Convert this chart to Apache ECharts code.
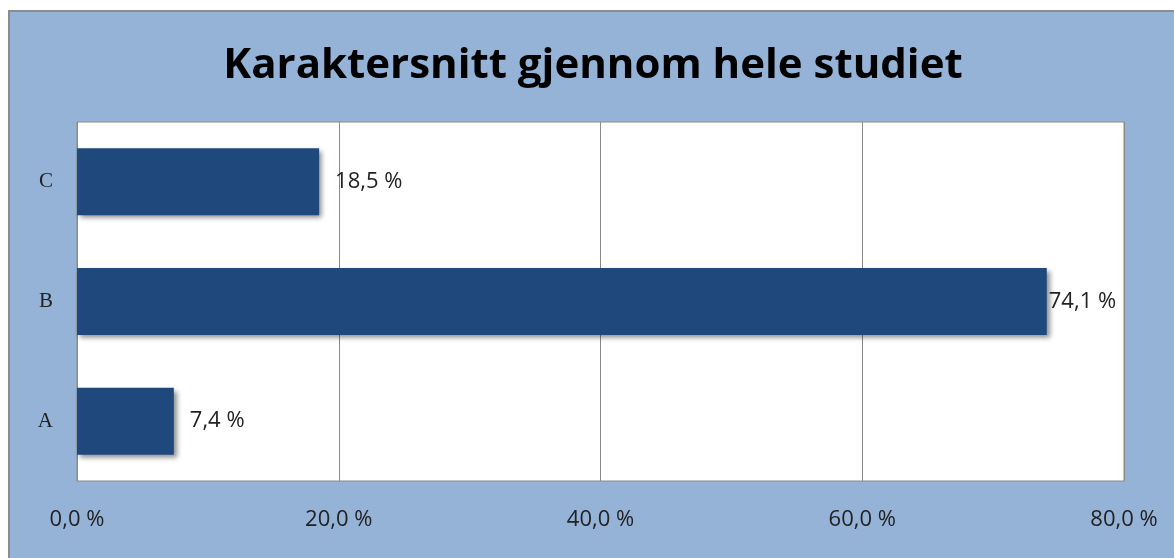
<!DOCTYPE html>
<html>
<head>
<meta charset="utf-8">
<script src="https://cdn.jsdelivr.net/npm/echarts@6/dist/echarts.min.js"></script>
<style>
    html, body { margin: 0; padding: 0; background: #fff; }
    #wrap {
        position: absolute;
        left: 8px;
        top: 10px;
        width: 1166px;
        height: 548px;
        border-left: 2px solid #8c8c8c;
        border-top: 2px solid #8c8c8c;
        background: #95b3d7;
    }
    #chart { width: 1166px; height: 548px; }
</style>
</head>
<body>
<div id="wrap"><div id="chart"></div></div>
<script>
const title = 'Karaktersnitt gjennom hele studiet';
const categories = ['A', 'B', 'C'];
const values = [7.4, 74.1, 18.5];
const axisTicks = [0, 20, 40, 60, 80];

const fmt = (v, d) => v.toFixed(d).replace('.', ',') + ' %';

const chart = echarts.init(document.getElementById('chart'));

chart.setOption({
    animation: false,
    title: {
        text: title,
        left: 'center',
        top: 28,
        textStyle: {
            fontFamily: 'Open Sans',
            fontWeight: 'bold',
            fontSize: 42,
            color: '#000',
        },
    },
    grid: {
        left: 67,
        top: 110,
        width: 1047,
        height: 359,
        show: true,
        backgroundColor: '#fff',
        borderColor: '#8a8a8a',
        borderWidth: 1,
    },
    xAxis: {
        type: 'value',
        min: axisTicks[0],
        max: axisTicks[axisTicks.length - 1],
        interval: 20,
        axisLine: { show: false },
        axisTick: { show: false },
        splitLine: { lineStyle: { color: '#8a8a8a', width: 1 } },
        axisLabel: {
            margin: 28,
            fontFamily: 'Open Sans',
            fontSize: 22,
            color: '#222',
            formatter: (v) => fmt(v, 1),
        },
    },
    yAxis: {
        type: 'category',
        data: categories,
        axisLine: { show: false },
        axisTick: { show: false },
        axisLabel: {
            margin: 24,
            fontFamily: 'Liberation Serif',
            fontSize: 21,
            color: '#222',
        },
    },
    series: [
        {
            type: 'bar',
            data: values.map((v, i) => (i === 1 ? { value: v, label: { distance: 2 } } : v)),
            barCategoryGap: '44%',
            itemStyle: {
                color: '#1f497d',
                shadowColor: 'rgba(0,0,0,0.45)',
                shadowBlur: 5,
                shadowOffsetX: 3,
                shadowOffsetY: 3,
            },
            label: {
                show: true,
                position: 'right',
                distance: 16,
                fontFamily: 'Open Sans',
                fontSize: 22,
                color: '#222',
                formatter: (p) => fmt(p.value, 1),
            },
        },
    ],
});
</script>
</body>
</html>
